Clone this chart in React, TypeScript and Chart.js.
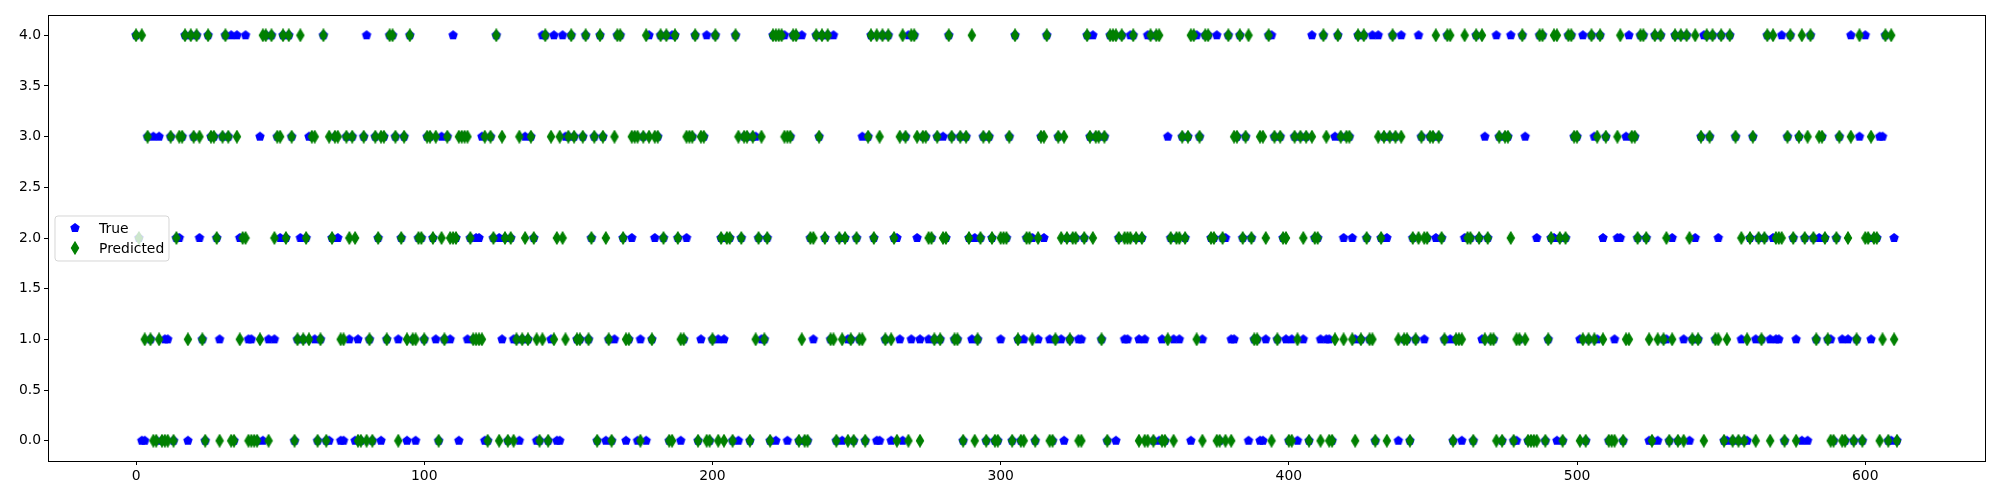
import React, { useEffect, useRef } from 'react';
import { Chart, registerables } from 'chart.js';

Chart.register(...registerables);

// True class per sample index (0..611)
const actualValues = [
  4,2,0,0,3,1,3,0,3,0, 1,1,3,0,2,2,3,4,0,4, 3,4,2,1,0,4,3,3,2,1, 3,4,3,4,0,4,2,2,4,1,
  1,0,0,3,0,4,1,4,1,3, 2,4,2,4,3,0,1,2,1,2, 3,3,1,0,1,4,0,0,2,3, 2,0,0,3,1,3,0,1,0,3,
  4,1,0,3,2,0,3,1,4,4, 3,1,2,3,0,4,1,0,2,2, 1,3,3,2,1,0,3,1,3,1, 4,2,0,3,3,1,2,1,2,2,
  3,0,0,3,2,4,2,1,2,0, 2,1,1,0,1,3,1,3,2,0, 0,4,4,0,1,4,0,0,4,3, 3,4,3,1,1,3,4,1,2,3,
  0,4,3,0,1,0,1,4,4,2, 0,1,2,3,0,1,3,0,4,1, 2,3,4,2,4,0,4,4,2,0, 1,2,3,3,4,0,1,3,4,0,
  1,4,1,2,1,2,2,0,4,0, 2,3,3,0,3,3,2,1,1,2, 0,4,0,4,4,4,0,3,4,4, 0,4,0,0,2,1,4,3,4,2,
  4,1,4,0,2,0,2,1,1,0, 2,1,3,0,3,4,2,0,0,4, 1,4,0,2,2,1,0,3,4,1, 4,2,1,3,3,1,2,1,3,1,
  3,2,4,3,1,1,3,0,3,2, 1,2,1,2,3,0,3,2,0,0, 1,2,2,3,0,4,1,0,1,2, 2,2,0,1,3,2,4,1,0,1,
  3,1,0,2,1,2,2,1,1,2, 4,3,4,3,3,1,3,0,4,4, 0,2,4,1,1,4,4,2,1,2, 1,4,4,0,4,0,1,0,3,2,
  1,2,1,3,2,3,0,4,4,3, 1,4,4,2,2,4,0,2,2,4, 1,1,3,4,2,3,0,2,1,1, 0,0,1,4,4,3,1,3,2,1,
  0,1,3,0,3,1,3,0,4,2, 2,1,4,1,1,0,3,4,3,2, 3,3,2,1,4,1,4,2,1,4, 0,4,2,3,2,3,4,3,0,4,
  1,1,0,2,1,4,3,1,2,3, 3,2,3,2,1,4,1,0,1,1, 0,2,2,2,0,4,2,1,3,2, 1,1,4,3,0,3,3,4,0,0,
  1,4,3,0,0,0,2,4,4,0, 1,2,2,0,2,0,2,4,4,3, 3,1,4,0,1,4,3,1,4,2, 3,0,0,1,2,2,0,3,4,3,
  3,2,4,4,2,0,0,4,0,4, 1,1,0,2,4,0,4,1,4,0, 1,2,1,3,4,4,3,4,1,2, 4,0,0,4,0,3,0,1,0,0,
  2,3,1,2,1,2,4,1,2,1, 1,4,0,3,4,2,1,3,0,2, 0,4,2,1,2,3,2,1,1,0, 2,3,1,0,1,4,0,1,3,0,
  4,2,1,2,2,3,3,4,0,0, 2,0,
];

// Predicted class per sample index (0..611)
const predictedValues = [
  4,2,4,1,3,1,0,0,1,0, 0,0,3,0,2,3,3,4,1,4, 3,4,3,1,0,4,3,3,2,0, 3,4,3,0,0,3,1,2,2,0,
  0,0,0,1,4,4,0,4,2,3, 3,4,2,4,3,0,1,4,1,2, 1,3,3,0,1,4,0,3,2,3, 3,1,1,3,2,3,2,0,0,3,
  0,1,0,3,2,3,3,1,4,4, 3,0,2,3,1,4,1,1,2,2, 1,3,3,2,3,0,2,1,3,2, 2,2,3,3,3,3,2,1,1,1,
  1,3,0,3,2,4,0,3,2,0, 2,0,1,3,1,2,1,3,2,1, 0,1,4,0,3,1,2,3,2,1, 3,4,3,1,1,3,4,1,2,3,
  0,4,3,2,1,0,3,4,4,2, 1,1,3,3,3,0,3,4,3,1, 3,3,4,2,4,0,0,4,2,1, 1,3,3,3,4,0,3,3,0,0,
  1,4,0,2,0,2,2,0,4,3, 2,3,3,0,3,1,2,3,1,2, 0,4,4,4,4,3,3,3,4,4, 0,1,0,0,2,2,4,3,4,2,
  4,1,1,0,2,1,2,0,1,0, 2,1,1,0,3,4,2,4,3,4, 1,4,1,2,0,3,4,3,0,4, 4,3,0,3,3,2,2,1,3,1,
  2,2,4,3,1,1,3,0,3,2, 4,0,1,2,3,0,3,2,0,0, 2,2,2,3,0,4,1,0,0,2, 2,1,0,2,3,3,4,0,0,1,
  3,2,3,2,1,2,2,0,0,2, 4,3,2,3,3,1,3,0,4,4, 4,2,4,2,2,2,4,2,0,2, 0,0,4,0,4,4,0,0,1,2,
  0,2,2,3,2,3,4,4,1,3, 0,4,4,2,2,0,0,2,0,4, 0,3,3,4,2,3,4,2,1,1, 3,3,2,4,0,3,1,3,2,2,
  0,0,3,1,3,2,3,0,3,2, 2,0,4,3,0,0,1,4,3,1, 3,3,1,0,4,1,4,2,1,1, 0,3,2,3,0,3,4,3,1,3,
  1,1,0,2,1,2,3,2,2,3, 3,4,3,2,1,4,4,0,1,1, 1,4,2,2,0,4,2,4,1,2, 1,1,0,3,0,3,3,2,0,1,
  1,4,1,0,0,0,0,4,4,0, 1,2,4,4,2,0,2,4,4,3, 3,0,1,0,1,4,1,3,4,1, 3,0,0,0,3,4,0,1,1,3,
  3,2,4,4,2,1,0,4,1,4, 1,2,0,1,4,0,4,0,4,2, 1,4,1,3,0,4,3,4,1,1, 4,0,1,4,0,3,0,2,0,1,
  2,3,0,2,1,2,4,0,4,2, 2,2,0,3,4,2,0,3,4,2, 3,4,2,1,3,3,2,1,0,0, 2,3,0,0,2,3,0,1,4,0,
  2,2,3,2,2,0,1,4,0,4, 1,0,
];

const seriesLabels = ['True', 'Predicted'];
const seriesColors = ['#0000ff', '#008000'];
const xTickValues = [0, 100, 200, 300, 400, 500, 600];
const yTickValues = [0, 0.5, 1, 1.5, 2, 2.5, 3, 3.5, 4];

const FONT = '"DejaVu Sans", "Liberation Sans", sans-serif';

function makePentagon(color: string, r: number) {
  const c = document.createElement('canvas');
  c.width = 12;
  c.height = 12;
  const ctx = c.getContext('2d')!;
  ctx.beginPath();
  for (let k = 0; k < 5; k++) {
    const a = -Math.PI / 2 + (k * 2 * Math.PI) / 5;
    const px = 6 + r * Math.cos(a);
    const py = 6 + r * Math.sin(a);
    if (k === 0) ctx.moveTo(px, py);
    else ctx.lineTo(px, py);
  }
  ctx.closePath();
  ctx.fillStyle = color;
  ctx.fill();
  ctx.lineWidth = 1.3;
  ctx.strokeStyle = color;
  ctx.stroke();
  return c;
}

function makeThinDiamond(color: string) {
  const c = document.createElement('canvas');
  c.width = 10;
  c.height = 14;
  const ctx = c.getContext('2d')!;
  const cx = 5, cy = 7, hh = 5.9, hw = 3.54;
  ctx.beginPath();
  ctx.moveTo(cx, cy - hh);
  ctx.lineTo(cx + hw, cy);
  ctx.lineTo(cx, cy + hh);
  ctx.lineTo(cx - hw, cy);
  ctx.closePath();
  ctx.fillStyle = color;
  ctx.fill();
  ctx.lineWidth = 1.3;
  ctx.strokeStyle = color;
  ctx.stroke();
  return c;
}

export default function App() {
  const ref = useRef<HTMLCanvasElement | null>(null);

  useEffect(() => {
    if (!ref.current) return;
    const pent = makePentagon(seriesColors[0], 4.17);
    const diam = makeThinDiamond(seriesColors[1]);
    const markers = [pent, diam];

    const framePlugin = {
      id: 'frameAndLegend',
      afterDraw(chart: any) {
        const { ctx, chartArea } = chart;
        const { left, right, top, bottom } = chartArea;
        ctx.save();
        ctx.strokeStyle = '#000';
        ctx.lineWidth = 1;
        ctx.strokeRect(Math.round(left) + 0.5, Math.round(top) + 0.5, Math.round(right - left), Math.round(bottom - top));

        // legend (center left)
        const midY = (top + bottom) / 2;
        const bx = left + 7, bw = 114, bh = 45, rr = 3;
        const by = Math.round(midY - bh / 2);
        ctx.beginPath();
        ctx.moveTo(bx + rr, by);
        ctx.lineTo(bx + bw - rr, by);
        ctx.quadraticCurveTo(bx + bw, by, bx + bw, by + rr);
        ctx.lineTo(bx + bw, by + bh - rr);
        ctx.quadraticCurveTo(bx + bw, by + bh, bx + bw - rr, by + bh);
        ctx.lineTo(bx + rr, by + bh);
        ctx.quadraticCurveTo(bx, by + bh, bx, by + bh - rr);
        ctx.lineTo(bx, by + rr);
        ctx.quadraticCurveTo(bx, by, bx + rr, by);
        ctx.closePath();
        ctx.fillStyle = 'rgba(255,255,255,0.8)';
        ctx.fill();
        ctx.strokeStyle = 'rgba(204,204,204,0.8)';
        ctx.lineWidth = 1;
        ctx.stroke();

        ctx.font = `13.9px ${FONT}`;
        ctx.fillStyle = '#000';
        ctx.textBaseline = 'middle';
        ctx.textAlign = 'left';
        seriesLabels.forEach((lab, i) => {
          const yy = by + 12 + i * 20;
          const m = markers[i];
          ctx.drawImage(m, Math.round(bx + 19.5 - m.width / 2), Math.round(yy - m.height / 2));
          ctx.fillText(lab, bx + 44, yy + 1);
        });
        ctx.restore();
      },
    };

    const chart = new Chart(ref.current, {
      type: 'scatter',
      data: {
        datasets: [
          {
            label: seriesLabels[0],
            data: actualValues.map((y, x) => ({ x, y })),
            pointStyle: pent as any,
            pointRadius: 5,
            backgroundColor: seriesColors[0],
            borderColor: seriesColors[0],
            order: 1,
          },
          {
            label: seriesLabels[1],
            data: predictedValues.map((y, x) => ({ x, y })),
            pointStyle: diam as any,
            pointRadius: 5,
            backgroundColor: seriesColors[1],
            borderColor: seriesColors[1],
            order: 0,
          },
        ],
      },
      options: {
        animation: false,
        responsive: false,
        events: [],
        layout: { padding: { left: 0, right: 15, top: 15, bottom: 0 } },
        plugins: { legend: { display: false }, tooltip: { enabled: false } },
        scales: {
          x: {
            type: 'linear',
            min: -30.55,
            max: 641.55,
            afterBuildTicks: (s: any) => {
              s.ticks = xTickValues.map((v) => ({ value: v }));
            },
            afterFit: (s: any) => {
              s.height = 39;
            },
            grid: { display: true, drawOnChartArea: false, drawTicks: true, tickLength: 4, color: '#000', lineWidth: 1 },
            border: { display: false },
            ticks: {
              color: '#000',
              font: { family: FONT, size: 13.9 },
              padding: 3,
              maxRotation: 0,
              autoSkip: false,
              callback: (v: any) => String(v),
            },
          },
          y: {
            type: 'linear',
            min: -0.2,
            max: 4.2,
            afterBuildTicks: (s: any) => {
              s.ticks = yTickValues.map((v) => ({ value: v }));
            },
            afterFit: (s: any) => {
              s.width = 48;
            },
            grid: { display: true, drawOnChartArea: false, drawTicks: true, tickLength: 4, color: '#000', lineWidth: 1 },
            border: { display: false },
            ticks: {
              color: '#000',
              font: { family: FONT, size: 13.9 },
              padding: 3,
              autoSkip: false,
              callback: (v: any) => Number(v).toFixed(1),
            },
          },
        },
      },
      plugins: [framePlugin],
    });
    return () => chart.destroy();
  }, []);

  return (
    <canvas
      ref={ref}
      width={2000}
      height={500}
      style={{ position: 'absolute', left: 0, top: 0, width: 2000, height: 500 }}
    />
  );
}
